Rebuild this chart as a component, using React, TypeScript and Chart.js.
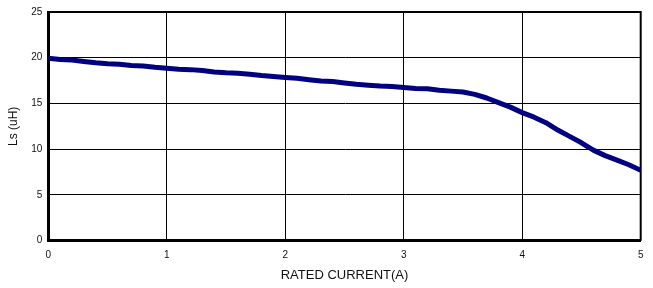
import React, { useEffect, useRef } from "react";
import { Chart, registerables } from "chart.js";

Chart.register(...registerables);

const currents = [
  0, 0.1, 0.2, 0.3, 0.4, 0.5, 0.6, 0.7, 0.8, 0.9,
  1.0, 1.1, 1.2, 1.3, 1.4, 1.5, 1.6, 1.7, 1.8, 1.9,
  2.0, 2.1, 2.2, 2.3, 2.4, 2.5, 2.6, 2.7, 2.8, 2.9,
  3.0, 3.1, 3.2, 3.3, 3.4, 3.5, 3.6, 3.7, 3.8, 3.9,
  4.0, 4.1, 4.2, 4.3, 4.4, 4.5, 4.6, 4.7, 4.8, 4.9, 5.0,
];
const inductance = [
  19.95, 19.8, 19.75, 19.6, 19.45, 19.35, 19.3, 19.15, 19.1, 18.95,
  18.85, 18.75, 18.7, 18.6, 18.45, 18.35, 18.3, 18.2, 18.05, 17.95,
  17.85, 17.75, 17.6, 17.45, 17.4, 17.25, 17.1, 17.0, 16.9, 16.85,
  16.75, 16.65, 16.6, 16.45, 16.35, 16.25, 16.0, 15.6, 15.1, 14.6,
  14.0, 13.5, 12.9, 12.1, 11.4, 10.7, 9.9, 9.3, 8.8, 8.3, 7.7,
];
const xTicks = [0, 1, 2, 3, 4, 5];
const yTicks = [0, 5, 10, 15, 20, 25];
const xTitle = "RATED CURRENT(A)";
const yTitle = "Ls (uH)";

const FONT = "'Liberation Sans', Arial, sans-serif";

const framePlugin = {
  id: "frame",
  beforeDatasetsDraw(chart: any) {
    const { ctx, chartArea } = chart;
    ctx.save();
    ctx.strokeStyle = "#000";
    ctx.lineWidth = 2;
    ctx.beginPath();
    ctx.moveTo(chartArea.left, chartArea.top);
    ctx.lineTo(chartArea.right, chartArea.top);
    ctx.lineTo(chartArea.right, chartArea.bottom);
    ctx.stroke();
    ctx.restore();
  },
};

export default function App() {
  const ref = useRef<HTMLCanvasElement>(null);
  useEffect(() => {
    document.body.style.margin = "0";
    const points = currents.map((x, i) => ({ x, y: inductance[i] }));
    const chart = new Chart(ref.current!, {
      type: "line",
      data: {
        datasets: [
          {
            data: points,
            borderColor: "#000080",
            borderWidth: 5,
            pointRadius: 0,
            tension: 0,
            borderJoinStyle: "round",
            borderCapStyle: "butt",
          },
        ],
      },
      options: {
        animation: false,
        responsive: false,
        events: [],
        layout: { padding: { left: 0, top: 10.5, right: 12.3, bottom: 0 } },
        plugins: { legend: { display: false }, tooltip: { enabled: false } },
        scales: {
          x: {
            type: "linear",
            min: xTicks[0],
            max: xTicks[xTicks.length - 1],
            afterBuildTicks: (s: any) => {
              s.ticks = xTicks.map((v) => ({ value: v }));
            },
            afterFit: (s: any) => {
              s.height = 47.3;
            },
            grid: { color: "#000", lineWidth: 1, drawTicks: false },
            border: { color: "#000", width: 3 },
            ticks: {
              padding: 9,
              color: "#111",
              maxRotation: 0,
              font: { family: FONT, size: 10 },
            },
            title: {
              display: true,
              text: xTitle,
              color: "#111",
              font: { family: FONT, size: 13 },
              padding: { top: 0, bottom: 5 },
            },
          },
          y: {
            type: "linear",
            min: yTicks[0],
            max: yTicks[yTicks.length - 1],
            afterBuildTicks: (s: any) => {
              s.ticks = yTicks.map((v) => ({ value: v }));
            },
            afterFit: (s: any) => {
              s.width = 48.3;
            },
            grid: { color: "#000", lineWidth: 1, drawTicks: false },
            border: { color: "#000", width: 3 },
            ticks: {
              padding: 6,
              color: "#111",
              font: { family: FONT, size: 10 },
            },
            title: {
              display: true,
              text: yTitle,
              color: "#111",
              font: { family: FONT, size: 12 },
              padding: { top: 6, bottom: 0 },
            },
          },
        },
      },
      plugins: [framePlugin],
    });
    return () => chart.destroy();
  }, []);
  return (
    <div style={{ position: "absolute", left: 0, top: 0, width: 653, height: 288, background: "#fff" }}>
      <canvas ref={ref} width={653} height={288} />
    </div>
  );
}
